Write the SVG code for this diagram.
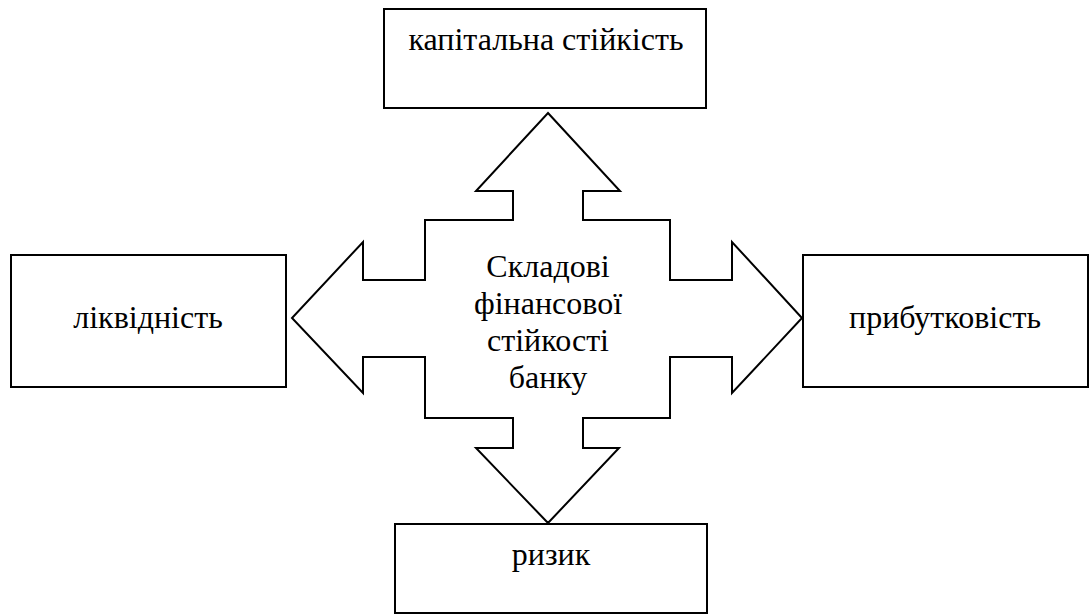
<svg xmlns="http://www.w3.org/2000/svg" width="1090" height="614" viewBox="0 0 1090 614">
<style>
.box{fill:#fff;stroke:#000;stroke-width:2}
.shape{fill:#fff;stroke:#000;stroke-width:2;stroke-linejoin:miter}
.t{font-family:"Liberation Serif","Times New Roman",serif;font-size:32px;fill:#000;text-anchor:middle}
</style>
<rect width="1090" height="614" fill="#fff"/>
<g id="connectors">
<polygon class="shape" points="548,113 620,191 583,191 583,220 670,220 670,280 732,280 732,242 802,318 732,393 732,357 670,357 670,418 583,418 583,448 619,448 548,523 476,448 513,448 513,418 425,418 425,357 363,357 363,393 292,318 363,242 363,280 425,280 425,220 513,220 513,191 476,191"/>
</g>
<g id="center">
<text class="t" x="548" y="277">Складові</text>
<text class="t" x="548" y="314">фінансової</text>
<text class="t" x="548" y="351">стійкості</text>
<text class="t" x="548" y="388">банку</text>
</g>
<g id="top">
<rect class="box" x="384" y="9" width="322" height="99"/>
<text class="t" x="546" y="50">капітальна стійкість</text>
</g>
<g id="left">
<rect class="box" x="11" y="255" width="275" height="132"/>
<text class="t" x="148" y="328">ліквідність</text>
</g>
<g id="right">
<rect class="box" x="803" y="255" width="285" height="132"/>
<text class="t" x="945" y="328">прибутковість</text>
</g>
<g id="bottom">
<rect class="box" x="395" y="524" width="312" height="89"/>
<text class="t" x="551" y="565">ризик</text>
</g>
</svg>
